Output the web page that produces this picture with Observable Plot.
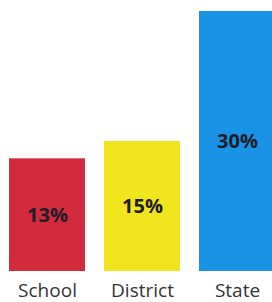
<!DOCTYPE html>
<html>
<head>
<meta charset="utf-8">
<script src="https://cdn.jsdelivr.net/npm/d3@7"></script>
<script src="https://cdn.jsdelivr.net/npm/@observablehq/plot@0.6"></script>
<style>
  html, body { margin: 0; padding: 0; background: #fff; overflow: hidden; }
</style>
</head>
<body>
<div id="chart"></div>
<script>
const categories = ["School", "District", "State"];
const values = [13, 15, 30];
const colors = ["#D22B3E", "#F1E51E", "#1A92E6"];

const data = categories.map((c, i) => ({category: c, value: values[i], color: colors[i]}));

const chart = Plot.plot({
  width: 272,
  height: 302,
  marginTop: 0,
  marginBottom: 31,
  marginLeft: 0,
  marginRight: 0,
  style: {fontFamily: "'Open Sans', sans-serif", background: "#fff", overflow: "hidden"},
  x: {domain: categories, range: [-0.5, 284.5], paddingInner: 0.2, paddingOuter: 0.1, label: null},
  y: {domain: [0, 30], range: [271, 11], axis: null},
  marks: [
    Plot.barY(data, {x: "category", y: "value", fill: "color"}),
    Plot.text(data, {
      x: "category",
      y: d => d.value / 2,
      text: d => d.value + "%",
      fontWeight: "bold",
      fontSize: 20,
      fill: "#1e1e28"
    }),
    Plot.axisX({tickSize: 0, tickPadding: 12, fontSize: 19, color: "#333", label: null})
  ]
});
document.getElementById("chart").appendChild(chart);
</script>
</body>
</html>
